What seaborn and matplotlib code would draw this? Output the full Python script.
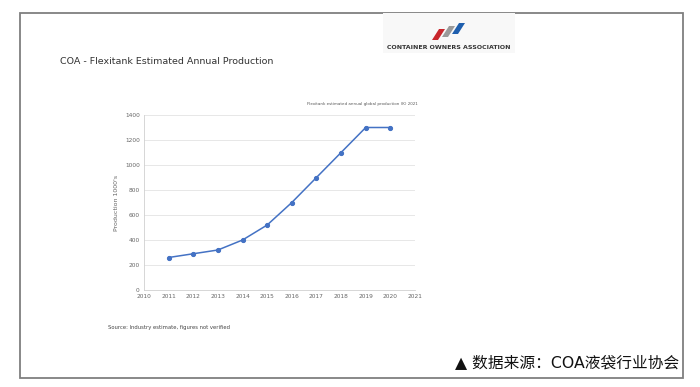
import matplotlib
matplotlib.use("Agg")
import matplotlib.pyplot as plt
import pandas as pd
import seaborn as sns
from matplotlib.patches import Rectangle, Polygon

years = [2011, 2012, 2013, 2014, 2015, 2016, 2017, 2018, 2019, 2020]
production = [260, 290, 320, 400, 520, 700, 900, 1100, 1300, 1300]
x_ticks = list(range(2010, 2022))
y_ticks = [0, 200, 400, 600, 800, 1000, 1200, 1400]

df = pd.DataFrame({"year": years, "production": production})

sns.set_style("white")
plt.rcParams["font.family"] = ["DejaVu Sans", "Noto Sans CJK SC"]

fig = plt.figure(figsize=(7, 3.87), dpi=100)
W, H = 700, 387


def fx(px):
    return px / W


def fy(py):
    return 1 - py / H


# outer frame
fig.patches.append(Rectangle((fx(20), fy(378)), fx(683) - fx(20), fy(13) - fy(378),
                             transform=fig.transFigure, fill=False,
                             edgecolor="#7f7f7f", linewidth=1.3))

# logo
fig.patches.append(Rectangle((fx(383), fy(53)), fx(132), 40 / H,
                             transform=fig.transFigure, facecolor="#f8f8f8",
                             edgecolor="none"))
for i, c in enumerate(["#c8262c", "#9a9a9a", "#1f5fae"]):
    x0 = 432 + i * 10
    pts = [(x0, 40 - i * 3), (x0 + 6, 40 - i * 3), (x0 + 13, 29 - i * 3), (x0 + 7, 29 - i * 3)]
    fig.patches.append(Polygon([(fx(a), fy(b)) for a, b in pts], closed=True,
                               transform=fig.transFigure, facecolor=c, edgecolor="none"))
fig.text(fx(449), fy(47.5), "CONTAINER OWNERS ASSOCIATION", fontsize=4.5,
         fontweight="bold", color="#333333", ha="center", va="center")

fig.text(fx(60), fy(61), "COA - Flexitank Estimated Annual Production", fontsize=6.8,
         color="#333333", ha="left", va="center")

ax = fig.add_axes([fx(144), fy(290), fx(415) - fx(144), fy(115) - fy(290)])
sns.lineplot(data=df, x="year", y="production", ax=ax, color="#4472c4",
             marker="o", markersize=3, markeredgecolor="#4472c4", linewidth=1.1)

ax.set_xlim(2010, 2021)
ax.set_ylim(0, 1400)
ax.set_xticks(x_ticks)
ax.set_yticks(y_ticks)
ax.tick_params(labelsize=4.2, colors="#666666", length=0, pad=3)
ax.set_xlabel("")
ax.set_ylabel("Production 1000's", fontsize=4.5, color="#666666", labelpad=4)
ax.grid(axis="y", color="#e3e3e3", linewidth=0.6)
for side in ["top", "right"]:
    ax.spines[side].set_visible(False)
for side in ["left", "bottom"]:
    ax.spines[side].set_color("#d0d0d0")
    ax.spines[side].set_linewidth(0.6)

fig.text(fx(418), fy(104), "Flexitank estimated annual global production (K) 2021",
         fontsize=2.9, color="#555555", ha="right", va="center")
fig.text(fx(108), fy(327), "Source: Industry estimate, figures not verified",
         fontsize=3.8, color="#444444", ha="left", va="center")

fig.text(fx(455), fy(363), "▲ 数据来源：COA液袋行业协会", fontsize=11.3,
         color="#111111", ha="left", va="center",
         family=["DejaVu Sans", "Noto Sans CJK SC"])

fig.savefig("out.png", dpi=100)
